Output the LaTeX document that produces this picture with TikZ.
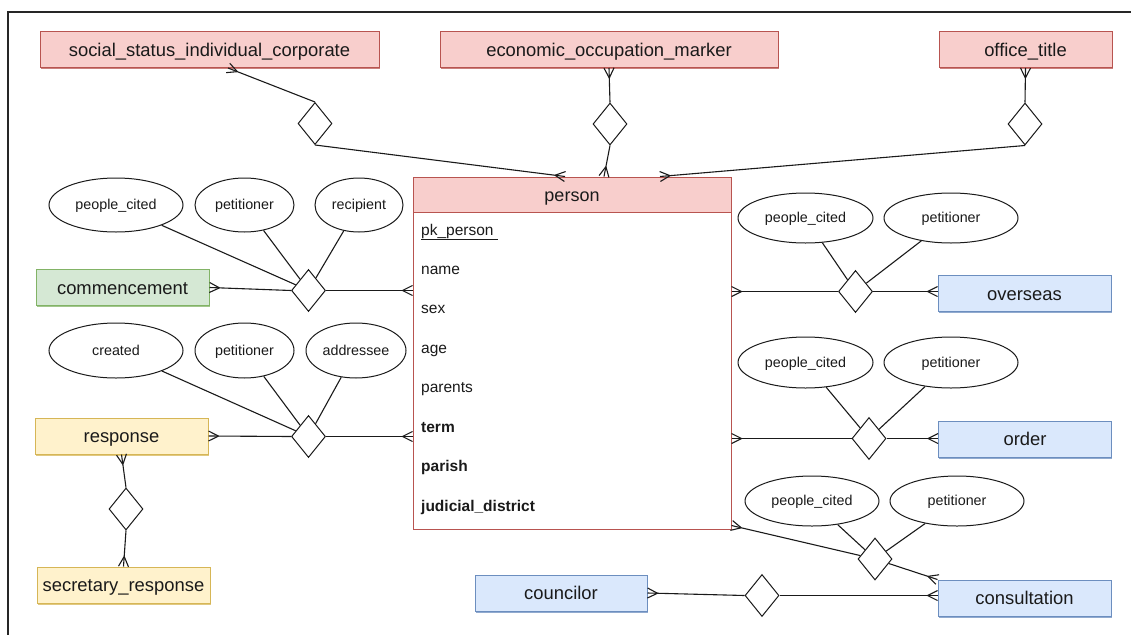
\documentclass[tikz,border=0pt]{standalone}
\usepackage{fontspec}
\setmainfont{Liberation Sans}
\usetikzlibrary{shapes.geometric,decorations.markings,shadows}
\definecolor{pinkF}{HTML}{F8CECC}
\definecolor{pinkD}{HTML}{B85450}
\definecolor{greenF}{HTML}{D5E8D4}
\definecolor{greenD}{HTML}{82B366}
\definecolor{yelF}{HTML}{FFF2CC}
\definecolor{yelD}{HTML}{D6B656}
\definecolor{blueF}{HTML}{DAE8FC}
\definecolor{blueD}{HTML}{6C8EBF}
\definecolor{lineC}{HTML}{1A1A1A}
\newcommand{\ErEntFont}{\fontsize{18.4}{22}\selectfont}
\newcommand{\ErHdrFont}{\fontsize{18}{22}\selectfont}
\newcommand{\ErAttFont}{\fontsize{15.5}{19}\selectfont}
\newcommand{\ErEllFont}{\fontsize{14.3}{17}\selectfont}
\tikzset{
  ent/.style 2 args={rectangle, draw=#1, fill=#2, line width=1pt,
    minimum width=173, minimum height=36, inner sep=0pt, text=lineC,
    font=\ErEntFont, text height=17.2pt, text depth=3.7pt,
    drop shadow={shadow xshift=0.6pt, shadow yshift=-1.6pt, fill=#1, opacity=0.75}},
  attr/.style={ellipse, draw=lineC, fill=white, line width=1pt, inner sep=0pt,
    minimum width=134, minimum height=54, text=lineC, font=\ErEllFont,
    text height=12.3pt, text depth=2.9pt},
  rel/.style={diamond, draw=lineC, fill=white, line width=1pt, inner sep=0pt,
    minimum width=34, minimum height=42},
  ln/.style={draw=lineC, line width=1.1pt},
  crowend/.style={postaction={decorate, decoration={markings,
    mark=at position 1 with {\draw[lineC, line width=1.1pt] (-10pt,0pt) -- (0pt,5pt) (-10pt,0pt) -- (0pt,-5pt);}}}},
  crowstart/.style={postaction={decorate, decoration={markings,
    mark=at position 0 with {\draw[lineC, line width=1.1pt] (10pt,0pt) -- (0pt,5pt) (10pt,0pt) -- (0pt,-5pt);}}}},
  ptxt/.style={anchor=west, inner sep=0pt, text=lineC, font=\ErAttFont,
    text height=11.2pt, text depth=3.1pt},
}
\begin{document}
\begin{tikzpicture}[x=1pt, y=-1pt]
\useasboundingbox (0,0) rectangle (1131,634);
\draw[line width=1.2pt, draw=black!85] (8,640) -- (8,12) -- (1140,12);

% person table
\node[draw=pinkD, fill=white, line width=1pt, minimum width=318, minimum height=352, inner sep=0pt] (person) at (572,353) {};
\node[draw=pinkD, fill=pinkF, line width=1pt, minimum width=318, minimum height=35, inner sep=0pt, text=lineC, font=\ErHdrFont, text height=17.5pt, text depth=3.6pt] (phead) at (572,194.5) {person};
\node[ptxt] (a1) at (421,231) {\underline{pk\_person\ }};
\node[ptxt] (a2) at (421,270) {name};
\node[ptxt] (a3) at (421,309.5) {sex};
\node[ptxt] (a4) at (421,349) {age};
\node[ptxt] (a5) at (421,388.5) {parents};
\node[ptxt] (a6) at (421,428) {\bfseries term};
\node[ptxt] (a7) at (421,467.5) {\bfseries parish};
\node[ptxt] (a8) at (421,507) {\bfseries judicial\_district};

% entities
\node[ent={pinkD}{pinkF}, minimum width=339] (ssic) at (209.5,49.5) {social\_status\_individual\_corporate};
\node[ent={pinkD}{pinkF}, minimum width=338] (econ) at (609,49.5) {economic\_occupation\_marker};
\node[ent={pinkD}{pinkF}] (office) at (1025.5,49.5) {office\_title};
\node[ent={greenD}{greenF}] (comm) at (122.5,287.5) {commencement};
\node[ent={yelD}{yelF}] (resp) at (121.5,436) {response};
\node[ent={yelD}{yelF}] (sec) at (123.5,585) {secretary\_response};
\node[ent={blueD}{blueF}] (over) at (1024.5,293.5) {overseas};
\node[ent={blueD}{blueF}] (order) at (1025,439) {order};
\node[ent={blueD}{blueF}] (cons) at (1024.5,598) {consultation};
\node[ent={blueD}{blueF}, minimum width=172] (coun) at (561,593) {councilor};

% relationships
\node[rel] (dS) at (315,123.5) {};
\node[rel] (dE) at (610,124) {};
\node[rel] (dO) at (1025,124) {};
\node[rel] (dC) at (308.5,290.5) {};
\node[rel] (dR) at (308.5,436.5) {};
\node[rel] (dSec) at (126,509) {};
\node[rel] (dOv) at (855.5,291.5) {};
\node[rel] (dOr) at (869,438.5) {};
\node[rel] (dCo) at (875,559) {};
\node[rel] (dCn) at (762,595.5) {};

% attributes of relationships
\node[attr] (c1) at (116,205) {people\_cited};
\node[attr, minimum width=99] (c2) at (244.5,205) {petitioner};
\node[attr, minimum width=88] (c3) at (359,205) {recipient};
\node[attr, minimum height=55] (r1) at (116,350.5) {created};
\node[attr, minimum width=99, minimum height=55] (r2) at (244.5,350.5) {petitioner};
\node[attr, minimum width=100, minimum height=55] (r3) at (356,350.5) {addressee};
\node[attr, minimum width=135, minimum height=50] (o1) at (805.5,218) {people\_cited};
\node[attr, minimum height=50] (o2) at (951,218) {petitioner};
\node[attr, minimum width=135, minimum height=51] (q1) at (805.5,362.5) {people\_cited};
\node[attr, minimum height=51] (q2) at (951,362.5) {petitioner};
\node[attr, minimum height=50] (k1) at (812,501) {people\_cited};
\node[attr, minimum height=50] (k2) at (957,501) {petitioner};

% attachment points on person
\coordinate (pS) at ([xshift=-7pt]person.north);
\coordinate (pE) at ([xshift=32pt]person.north);
\coordinate (pO) at ([xshift=88pt]person.north);
\coordinate (pCo) at ([yshift=4pt]person.south east);

% connectors: top
\draw[ln, crowstart] ([xshift=18.5pt]ssic.south) -- (dS.north);
\draw[ln, crowend] (dS.south) -- (pS);
\draw[ln, crowstart] (econ.south) -- (dE.north);
\draw[ln, crowend] (dE.south) -- (pE);
\draw[ln, crowstart] (office.south) -- (dO.north);
\draw[ln, crowend] (dO.south) -- (pO);

% left
\draw[ln, crowstart] (comm.east) -- (dC.west);
\draw[ln, crowend] (dC.east) -- (dC.east -| person.west);
\draw[ln] (c1) -- (dC);
\draw[ln] (c2) -- (dC);
\draw[ln] (c3) -- (dC);
\draw[ln, crowstart] (resp.east) -- (dR.west);
\draw[ln, crowend] (dR.east) -- (dR.east -| person.west);
\draw[ln] (r1) -- (dR);
\draw[ln] (r2) -- (dR);
\draw[ln] (r3) -- (dR);
\draw[ln, crowstart] (resp.south) -- (dSec.north);
\draw[ln, crowend] (dSec.south) -- (sec.north);

% right
\draw[ln, crowstart] (dOv.west -| person.east) -- (dOv.west);
\draw[ln, crowend] (dOv.east) -- (dOv.east -| over.west);
\draw[ln] (o1) -- (dOv);
\draw[ln] (o2) -- (dOv);
\draw[ln, crowstart] (dOr.west -| person.east) -- (dOr.west);
\draw[ln, crowend] (dOr.east) -- (dOr.east -| order.west);
\draw[ln] (q1) -- (dOr);
\draw[ln] (q2) -- (dOr);

% bottom
\draw[ln, crowstart] (pCo) -- (dCo);
\draw[ln, crowend] (dCo) -- (cons.north west);
\draw[ln] (k1) -- (dCo);
\draw[ln] (k2) -- (dCo);
\draw[ln, crowstart] (coun.east) -- (dCn.west);
\draw[ln, crowend] (dCn.east) -- (dCn.east -| cons.west);
\end{tikzpicture}
\end{document}
